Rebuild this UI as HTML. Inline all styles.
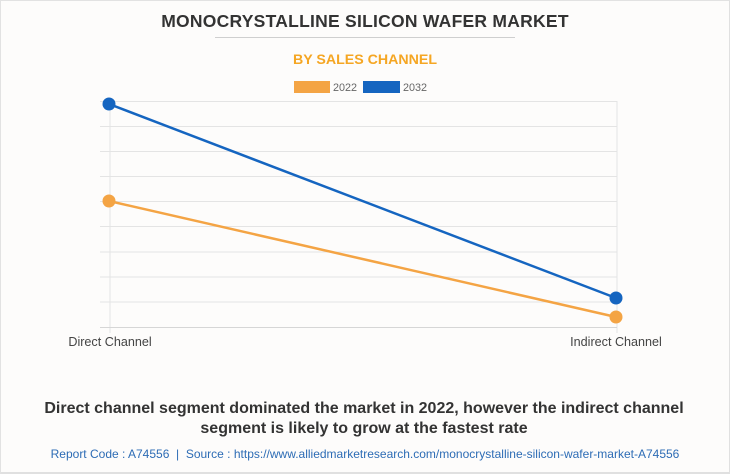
<!DOCTYPE html>
<html><head><meta charset="utf-8"><style>
html,body{margin:0;padding:0;}
body{width:730px;height:473px;background:#fdfcfb;overflow:hidden;font-family:"Liberation Sans",Arial,sans-serif;}
.frame{position:absolute;left:0;top:0;width:728px;height:471px;border:1px solid #e2e2e2;border-right:2px solid #e0e0e0;border-bottom:2px solid #e0e0e0;box-sizing:content-box;}
</style></head><body>
<div class="frame"></div>
<svg width="730" height="473" style="position:absolute;left:0;top:0" xmlns="http://www.w3.org/2000/svg" font-family="Liberation Sans, Arial, sans-serif">
<text x="365" y="27" text-anchor="middle" font-size="17.5" font-weight="bold" fill="#333" letter-spacing="0.25">MONOCRYSTALLINE SILICON WAFER MARKET</text>
<line x1="215" y1="37.5" x2="515" y2="37.5" stroke="#cfcfcf" stroke-width="1"/>
<text x="365" y="64" text-anchor="middle" font-size="14.2" font-weight="bold" fill="#f5a623">BY SALES CHANNEL</text>
<rect x="294" y="81" width="36" height="12" fill="#f4a444"/>
<text x="333" y="91" font-size="10.8" fill="#666">2022</text>
<rect x="363" y="81" width="37" height="12" fill="#1565c0"/>
<text x="403" y="91" font-size="10.8" fill="#666">2032</text>
<g stroke="#e4e4e4" stroke-width="1">
<line x1="100" y1="101.5" x2="617" y2="101.5"/>
<line x1="100" y1="126.5" x2="617" y2="126.5"/>
<line x1="100" y1="151.5" x2="617" y2="151.5"/>
<line x1="100" y1="176.5" x2="617" y2="176.5"/>
<line x1="100" y1="201.5" x2="617" y2="201.5"/>
<line x1="100" y1="226.5" x2="617" y2="226.5"/>
<line x1="100" y1="252" x2="617" y2="252"/>
<line x1="100" y1="277" x2="617" y2="277"/>
<line x1="100" y1="302" x2="617" y2="302"/>
<line x1="110" y1="101" x2="110" y2="333"/>
<line x1="617" y1="101" x2="617" y2="333"/>
</g>
<line x1="100" y1="327.5" x2="617" y2="327.5" stroke="#d6d6d6" stroke-width="1"/>
<line x1="109" y1="104" x2="616" y2="298" stroke="#1565c0" stroke-width="2.5"/>
<line x1="109" y1="201" x2="616" y2="317" stroke="#f4a444" stroke-width="2.5"/>
<circle cx="109" cy="104" r="6.5" fill="#1565c0"/>
<circle cx="616" cy="298" r="6.5" fill="#1565c0"/>
<circle cx="109" cy="201" r="6.5" fill="#f4a444"/>
<circle cx="616" cy="317" r="6.5" fill="#f4a444"/>
<text x="110" y="346" text-anchor="middle" font-size="12.6" fill="#444">Direct Channel</text>
<text x="616" y="346" text-anchor="middle" font-size="12.6" fill="#444">Indirect Channel</text>
<text x="364" y="413" text-anchor="middle" font-size="16" font-weight="bold" fill="#333">Direct channel segment dominated the market in 2022, however the indirect channel</text>
<text x="364" y="433" text-anchor="middle" font-size="16" font-weight="bold" fill="#333">segment is likely to grow at the fastest rate</text>
<text x="365" y="458" text-anchor="middle" font-size="12" fill="#2d6cb5">Report Code : A74556 &#160;| &#160;Source : https://www.alliedmarketresearch.com/monocrystalline-silicon-wafer-market-A74556</text>
</svg>
</body></html>
